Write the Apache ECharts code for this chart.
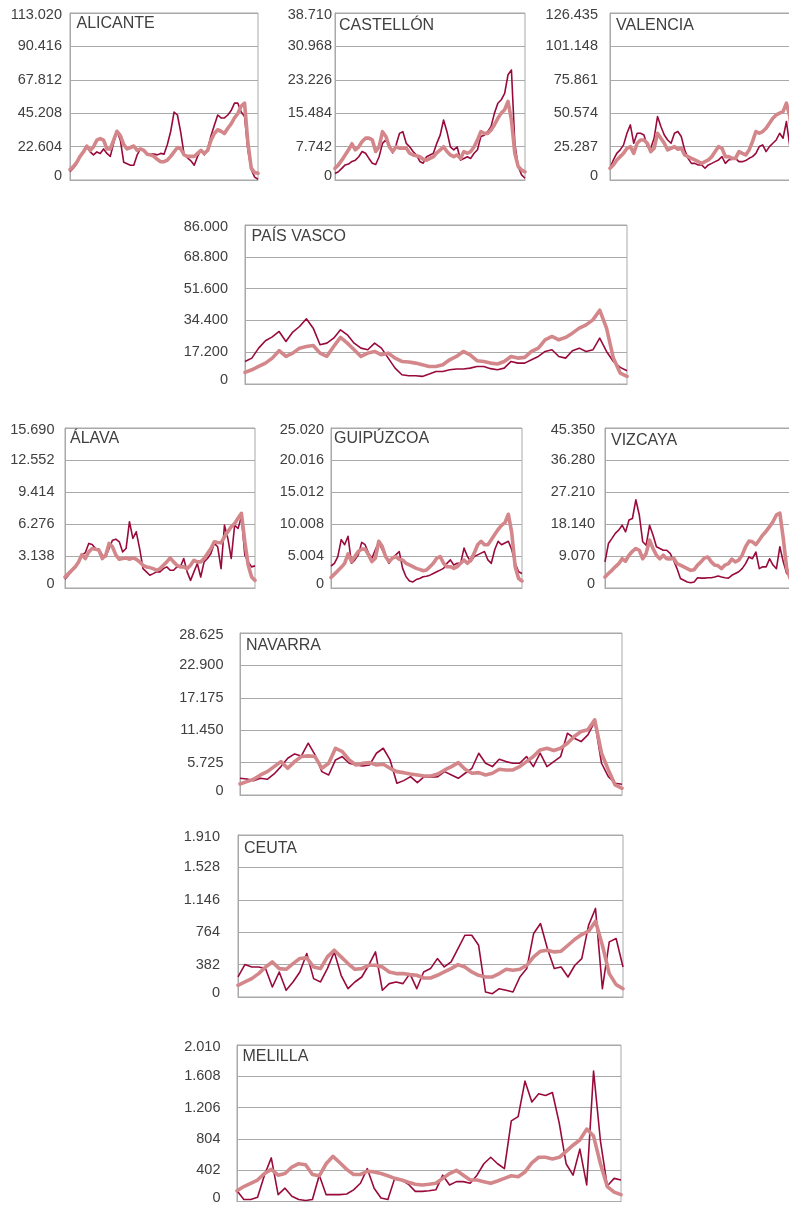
<!DOCTYPE html>
<html>
<head>
<meta charset="utf-8">
<script src="https://cdn.jsdelivr.net/npm/echarts@6/dist/echarts.min.js"></script>
<style>
  html, body { margin: 0; padding: 0; background: #ffffff; overflow: hidden; }
  #graf { width: 810px; height: 1205px; }
</style>
</head>
<body>
<div id="graf"></div>
<script>
// Periodo común a todas las provincias (57 cortes)
const periodos = Array.from({ length: 57 }, (_, i) => 'P' + (i + 1));

// ---- ALICANTE ----
const alicanteDiario = [5600,8000,11000,16000,19000,23000,19000,17000,19000,18000,21000,18000,16000,25000,33000,27000,12000,11000,10000,10000,17000,21000,20000,17000,17500,17500,17000,18000,17500,24000,33000,46000,44000,32000,17000,15000,13000,10000,16000,20000,17000,21000,30000,37000,44000,42000,42000,44000,47000,52000,52000,46000,43000,20000,7000,2000,500];
const alicanteMedia = [7000,9000,12000,16000,19000,23000,20000,22500,27000,28000,27000,21000,21000,27000,33000,30000,24000,21000,22000,23000,20000,21000,20000,17500,17000,16000,14000,12400,12400,13500,16000,19000,22000,21000,17000,16000,16000,16000,18000,20000,18000,20000,27000,31500,34000,33000,31500,35000,38000,42000,45000,50000,52000,25000,8000,5000,4500];

// ---- CASTELLÓN ----
const castellonDiario = [1500,1900,2700,3500,3700,4300,4600,5400,6600,6200,5000,3900,3600,5400,8500,9300,8100,6300,8100,10800,11200,8500,7700,6600,5800,4300,3900,5400,5800,6200,8500,10400,13900,11200,7700,7000,7700,4600,5000,5400,5000,6200,7000,10100,10400,11200,12400,15500,17800,18600,20100,24400,25500,8500,3100,1200,400];
const castellonMedia = [2700,3500,4600,5800,7000,8400,7000,7700,8900,9700,9700,9300,6600,7700,11200,10100,7700,6600,7700,7400,7400,7400,6200,5800,5600,5400,4800,4600,5000,5400,6300,7000,7700,6600,5800,5400,5800,5000,6600,6200,6600,7700,9300,11200,10800,10800,11600,12800,14300,15500,16300,18200,13900,6200,3100,2300,1900];

// ---- VALENCIA ----
const valenciaDiario = [8900,15200,20200,22800,26600,35400,41700,27800,35400,35400,34100,25300,24000,31600,48000,40500,34100,30300,27800,35400,36700,32900,22800,16400,12600,12600,11400,11400,8900,11400,12600,13900,15200,17700,12600,15200,15700,16400,13900,13900,14700,16400,17700,20200,25300,26600,21500,25300,27800,30300,35400,31600,44300,25300,20000,15000,10000];
const valenciaMedia = [8900,11400,15200,17700,20200,24000,25300,20200,27800,30300,30300,27800,21500,24000,35400,31600,27800,22800,24000,25300,23300,24000,19000,17700,16400,15200,13900,12600,13900,15200,17700,21500,25300,24000,17700,17700,16400,16400,21500,20200,19000,22800,29100,36700,35400,36700,39200,43000,46800,49300,50600,51800,58200,48000,25000,12000,8000];

// ---- PAÍS VASCO ----
const paisVascoDiario = [12200,14000,19400,23400,25500,28400,23000,28100,31100,35300,30200,21200,22100,24800,29300,26600,22100,19400,18500,22100,19400,14000,8600,5000,4500,4500,4100,5400,6800,6800,7700,8100,8100,8600,9500,9500,8300,7700,8600,12200,11300,11300,13100,14900,17600,18500,14900,14000,18000,19400,17600,18500,24800,17600,12200,9000,7200];
const paisVascoMedia = [6300,7700,9500,11300,14000,18000,14900,16700,19400,20300,20800,16700,15000,20300,25200,22100,18500,14900,16700,17600,15800,16700,14000,12200,11900,11300,10400,9500,9500,10400,13100,14900,17600,15800,12600,12200,11300,10800,12200,14900,14000,14400,17600,19400,23900,25700,23900,25200,27500,30200,32000,34700,39900,30200,14000,5900,4100];

// ---- ÁLAVA ----
const alavaDiario = [850,1250,1640,2070,2560,3220,3480,4370,4270,3870,3810,3220,3050,3870,4690,4790,4530,3540,3870,6500,4860,5510,3870,1900,1580,1250,1410,1580,1580,1900,2070,1740,1740,2070,2070,2890,1580,750,1580,2400,1080,2560,2890,3380,4370,4040,1900,6170,4860,2890,6170,5840,6990,3220,2560,2070,2170];
const alavaMedia = [1080,1410,1740,2070,2560,3280,2890,3540,3870,3810,3710,2890,3220,4370,4040,3220,2820,2890,2950,2820,2950,2820,2560,2230,2070,2000,1900,1740,1900,2230,2560,2950,2560,2230,2070,2070,1900,2230,2720,2560,2560,2890,3380,3870,4530,4460,4430,5020,5510,6010,6330,6830,7320,4530,2230,1080,750];

// ---- GUIPÚZCOA ----
const guipuzcoaDiario = [3440,3860,4920,7560,6770,8090,3860,4390,5180,7140,6770,5450,4660,5980,7140,5980,4920,3860,4660,5180,5710,3070,1750,1110,950,1320,1480,1750,1850,2010,2270,2540,2800,3070,3860,4390,3600,3860,3860,6240,4920,4130,4920,5180,5450,5710,4390,3860,5980,7300,6770,7040,7300,5980,3860,2540,2270];
const guipuzcoaMedia = [1640,2170,2700,3230,3860,5340,4130,4920,5710,6080,6080,5180,4130,4660,7300,6510,4920,4130,4660,4920,4500,4390,3860,3600,3330,3070,2910,2700,2800,3330,3860,4660,4920,3860,3330,3330,3070,3330,3860,4390,3860,4390,5450,6770,7300,6770,6770,7560,8360,9150,9790,10210,11530,8620,3330,1480,1110];

// ---- VIZCAYA ----
const vizcayaDiario = [7400,12600,14000,15500,16400,17800,15900,19300,19700,25000,20700,13100,12100,17800,15000,11700,11200,10700,10700,9800,7900,5500,2700,2200,1700,1500,1700,2900,2800,2800,2900,2900,3100,3400,3100,2900,2800,3600,4100,4600,5500,6900,8800,8300,10200,5500,6000,6000,8300,6500,5500,11700,7400,4100,3600,3000,2500];
const vizcayaMedia = [3100,4100,5000,6000,6900,8300,7600,9300,10400,11200,10700,8300,9800,13600,11200,9300,8300,9300,8300,8200,8500,6900,6500,6000,5500,5000,5200,6500,7400,8500,8800,7400,6500,6300,5500,6500,6900,8200,7400,7900,9300,11700,13300,13100,12300,13600,15000,16100,17400,18800,20700,21200,14000,5500,2700,2000,1800];

// ---- NAVARRA ----
const navarraDiario = [2950,2830,2540,2950,2770,3720,5020,6490,7260,6910,9150,7080,4130,3540,6200,6790,5610,5310,5130,5310,7380,8260,6200,2070,2540,3250,2180,3250,3130,3250,4130,3540,2950,3840,4720,7380,5610,5020,6320,5900,5610,5610,6790,5020,7380,5020,5900,6790,10920,10030,9440,10620,12980,5610,3250,2070,1890];
const navarraMedia = [1950,2360,2770,3540,4130,5020,5900,4720,5900,6790,6910,6790,4720,5610,8260,7670,6200,5310,5610,5720,5310,5430,4720,4130,3950,3720,3540,3360,3360,3720,4430,5020,5720,4540,3840,3950,3540,3840,4540,4430,4430,5020,5900,6790,7970,8260,7850,8260,9150,10330,11210,11510,13280,7380,4430,1770,1180];

// ---- CEUTA ----
const ceutaDiario = [236,382,354,354,335,118,295,79,177,295,512,217,177,335,532,256,98,177,236,374,532,79,158,177,158,276,98,295,335,453,354,413,571,728,728,610,59,39,98,79,59,236,335,748,866,571,335,354,236,374,453,847,1044,98,650,689,354];
const ceutaMedia = [138,177,217,276,354,413,335,327,394,453,461,354,335,473,551,473,394,327,335,374,374,354,295,276,276,264,256,224,224,256,295,335,382,354,295,256,236,236,276,327,315,327,374,473,540,551,532,540,610,681,736,776,894,610,276,146,98];

// ---- MELILLA ----
const melillaDiario = [138,25,25,54,338,560,88,171,67,25,12,25,338,88,88,88,96,150,234,422,171,46,25,297,276,222,130,130,138,150,338,213,255,255,234,338,485,568,485,422,1036,1090,1546,1279,1383,1362,1400,1003,485,338,673,213,1676,780,200,297,276];
const melillaMedia = [138,192,234,276,359,413,338,359,443,485,472,347,330,485,580,497,413,347,347,388,380,359,330,297,276,247,222,213,222,234,297,359,401,338,276,276,255,234,263,297,330,317,380,497,568,568,547,568,644,723,790,930,840,485,192,121,88];

// Escalas de cada eje vertical (máximo e intervalo)
const maximos = [113020, 38710, 126435, 86000, 15690, 25020, 45350, 28625, 1910, 2010];
const intervalos = [22604, 7742, 25287, 17200, 3138, 5004, 9070, 5725, 382, 402];
const nombres = ['ALICANTE', 'CASTELLÓN', 'VALENCIA', 'PAÍS VASCO', 'ÁLAVA', 'GUIPÚZCOA', 'VIZCAYA', 'NAVARRA', 'CEUTA', 'MELILLA'];
const diarios = [alicanteDiario, castellonDiario, valenciaDiario, paisVascoDiario, alavaDiario, guipuzcoaDiario, vizcayaDiario, navarraDiario, ceutaDiario, melillaDiario];
const medias = [alicanteMedia, castellonMedia, valenciaMedia, paisVascoMedia, alavaMedia, guipuzcoaMedia, vizcayaMedia, navarraMedia, ceutaMedia, melillaMedia];

// Disposición de los paneles: área de trazado, posición del rótulo y separación de etiquetas
const layout = [
  { grid: { left: 70,  top: 13,   width: 188, height: 167 }, titulo: [76.5, 16],   margen: 8 },
  { grid: { left: 335, top: 13,   width: 190, height: 167 }, titulo: [339, 17.5],  margen: 3 },
  { grid: { left: 610, top: 13,   width: 190, height: 167 }, titulo: [616, 18],    margen: 12 },
  { grid: { left: 245, top: 225,  width: 382, height: 159 }, titulo: [251.5, 229], margen: 17 },
  { grid: { left: 65,  top: 428,  width: 190, height: 160 }, titulo: [70, 431],    margen: 10.5 },
  { grid: { left: 331, top: 428,  width: 191, height: 160 }, titulo: [334, 431],   margen: 7 },
  { grid: { left: 605, top: 428,  width: 192, height: 160 }, titulo: [611, 432.5], margen: 10 },
  { grid: { left: 240, top: 633,  width: 382, height: 162 }, titulo: [246, 637.5], margen: 16.5 },
  { grid: { left: 238, top: 835,  width: 385, height: 162 }, titulo: [244, 841],   margen: 18 },
  { grid: { left: 237, top: 1045, width: 384, height: 161 }, titulo: [242.5, 1049], margen: 16.5 }
];

const FUENTE = '"Liberation Sans", Arial, Helvetica, sans-serif';
const GRIS = '#a9a9a9';
const TEXTO = '#404040';
const COLOR_DIARIO = '#990a3c';
const COLOR_MEDIA = '#d3878a';

function miles(v) {
  return String(v).replace(/\B(?=(\d{3})+(?!\d))/g, '.');
}

const grid = [], xAxis = [], yAxis = [], series = [], title = [];

layout.forEach((p, i) => {
  grid.push(Object.assign({ show: true, borderColor: GRIS, borderWidth: 1, backgroundColor: 'transparent', containLabel: false }, p.grid));
  title.push({
    text: nombres[i], left: p.titulo[0], top: p.titulo[1], padding: 0,
    textStyle: { fontFamily: FUENTE, fontSize: 16, fontWeight: 'normal', color: TEXTO }
  });
  xAxis.push({
    type: 'category', gridIndex: i, data: periodos, boundaryGap: false,
    axisLine: { show: true, lineStyle: { color: GRIS, width: 1 } },
    axisTick: { show: false }, axisLabel: { show: false }, splitLine: { show: false }
  });
  const maxV = maximos[i];
  yAxis.push({
    type: 'value', gridIndex: i, min: 0, max: maxV, interval: intervalos[i],
    axisLine: { show: true, lineStyle: { color: GRIS, width: 1 } },
    axisTick: { show: false },
    splitLine: { show: true, lineStyle: { color: GRIS, width: 1 } },
    axisLabel: {
      margin: p.margen, fontFamily: FUENTE, fontSize: 14.5, color: TEXTO,
      formatter: v => v === 0 ? '{b|0}' : (v === maxV ? '{t|' + miles(v) + '}' : miles(v)),
      rich: {
        b: { fontFamily: FUENTE, fontSize: 14.5, color: TEXTO, padding: [0, 0, 8, 0] },
        t: { fontFamily: FUENTE, fontSize: 14.5, color: TEXTO, padding: [4, 0, 0, 0] }
      }
    }
  });
  series.push({
    name: 'Diario', type: 'line', xAxisIndex: i, yAxisIndex: i, data: diarios[i],
    symbol: 'none', smooth: false, silent: true,
    lineStyle: { color: COLOR_DIARIO, width: 1.6, join: 'round' }, z: 2
  });
  series.push({
    name: 'Media móvil', type: 'line', xAxisIndex: i, yAxisIndex: i, data: medias[i],
    symbol: 'none', smooth: false, silent: true,
    lineStyle: { color: COLOR_MEDIA, width: 3.6, join: 'round', cap: 'round' }, z: 3
  });
});

const chart = echarts.init(document.getElementById('graf'), null, { renderer: 'canvas', width: 810, height: 1205 });
chart.setOption({
  animation: false,
  backgroundColor: '#ffffff',
  title, grid, xAxis, yAxis, series
});
</script>
</body>
</html>
